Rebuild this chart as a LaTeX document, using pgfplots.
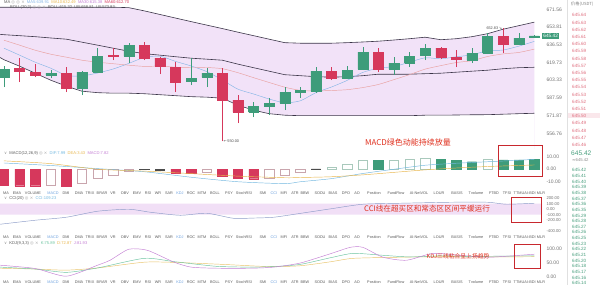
\documentclass[border=0pt]{standalone}
\usepackage{pgfplots}
\pgfplotsset{compat=1.18}
\usepackage{pgfplotstable}
\usepackage{fontspec}
\setmainfont{Liberation Sans}
\newfontfamily\cjk{Noto Sans CJK SC}
\newfontfamily\sym{DejaVu Sans}

\definecolor{upc}{HTML}{3E9C7A}
\definecolor{dnc}{HTML}{D6385C}
\definecolor{bandfill}{HTML}{F2E2F8}
\definecolor{bandln}{HTML}{3B3548}
\definecolor{maA}{HTML}{86B6E6}
\definecolor{maB}{HTML}{E9A0A0}
\definecolor{holr}{HTML}{C9A5AD}
\definecolor{holg}{HTML}{A9C9BC}
\definecolor{difc}{HTML}{72B8E0}
\definecolor{deac}{HTML}{E8B64C}
\definecolor{ccic}{HTML}{8C9CC8}
\definecolor{cciband}{HTML}{F1DFF6}
\definecolor{kc}{HTML}{6CC4A0}
\definecolor{dc}{HTML}{E9C46A}
\definecolor{jc}{HTML}{C47FD4}
\definecolor{anno}{HTML}{E0301E}
\definecolor{boxc}{HTML}{C8282E}
\definecolor{lblc}{HTML}{5A5A5A}
\definecolor{lblon}{HTML}{6FA3E0}
\definecolor{askc}{HTML}{E07080}
\definecolor{bidc}{HTML}{4AA07F}

% daily candles: open, high, low, close
\pgfplotstableread{
i  o      h      l      c
0  606.15 616.33 597.04 613.53
1  614.46 623.84 601.58 611.67
2  610.75 618.20 606.15 607.99
3  607.99 612.59 605.23 609.83
4  609.83 615.39 592.53 596.13
5  596.13 611.50 589.86 610.75
6  610.75 633.36 609.83 625.74
7  626.69 633.36 621.94 626.20
8  625.74 638.18 619.14 636.25
9  636.25 639.14 621.94 623.84
10 623.84 624.80 608.91 616.33
11 615.39 620.07 592.53 601.58
12 602.48 623.84 598.86 605.23
13 606.15 614.46 597.04 609.83
14 609.83 614.46 550.00 585.39
15 585.39 589.86 565.37 574.86
16 574.86 583.63 570.53 580.11
17 580.11 587.18 572.26 582.75
18 582.75 597.04 576.59 592.53
19 592.53 597.04 587.18 594.32
20 593.43 615.39 591.64 611.67
21 611.67 615.39 603.39 605.23
22 605.23 616.33 604.31 612.59
23 613.53 634.32 612.59 629.53
24 629.53 633.36 610.75 613.53
25 613.53 624.78 607.99 619.14
26 619.14 629.53 615.39 625.74
27 626.69 637.21 621.94 633.36
28 633.36 634.32 622.89 624.78
29 624.78 631.43 615.39 622.89
30 621.94 633.36 619.14 628.58
31 628.58 647.91 627.63 644.98
32 644.98 652.83 628.58 637.21
33 637.21 647.80 636.40 643.03
34 644.20 646.50 643.80 645.42
}\candles

% Bollinger bands (upper, middle, lower) and moving averages
\pgfplotstableread{
i      ub     mb     lb     ma5    ma10
-0.256 673.92 646.80 624.50 nan    nan
0      673.92 646.44 622.41 633.36 641.07
1      673.92 645.47 616.33 626.69 636.25
2      673.92 644.49 609.83 620.07 631.43
3      673.92 643.22 603.39 614.46 627.63
4      673.92 642.05 597.95 607.81 624.79
5      673.92 639.14 593.43 607.25 621.94
6      673.92 636.25 592.09 610.01 620.07
7      673.92 633.36 591.64 613.71 618.67
8      673.41 630.48 591.64 618.95 617.27
9      670.14 628.11 591.19 624.60 616.15
10     666.52 626.69 590.30 625.74 616.42
11     662.89 625.26 589.41 620.82 615.39
12     659.38 623.84 588.53 616.52 615.11
13     655.90 622.89 588.09 611.30 615.11
14     652.43 621.94 587.18 603.57 613.99
15     648.89 618.20 580.99 595.23 610.29
16     645.47 614.93 576.59 590.93 605.69
17     642.05 611.67 573.56 586.46 601.30
18     638.66 608.45 572.26 583.10 597.04
19     638.18 607.53 571.83 584.86 594.14
20     638.18 606.61 571.83 592.18 593.70
21     638.18 606.15 571.83 597.22 594.05
22     638.66 606.61 571.83 603.21 594.78
23     639.33 607.53 571.83 610.57 596.68
24     640.11 608.91 571.83 614.46 599.49
25     641.27 608.91 571.83 615.95 603.94
26     642.54 608.91 571.83 620.07 608.54
27     644.00 609.37 572.26 624.22 613.62
28     641.56 609.83 572.26 623.27 616.89
29     642.54 610.75 572.43 625.17 619.79
30     644.49 611.67 572.61 627.06 621.47
31     647.42 612.59 572.69 630.86 625.45
32     651.83 613.99 573.13 631.62 627.92
33     655.31 614.93 573.56 635.29 629.25
34     658.81 615.32 573.93 639.91 632.49
}\bands

\pgfplotstableread{
i   dif   dea
0   5.0   6.7
3   3.0   4.5
6   0.5   0.0
9  -2.0  -1.5
12 -6.4  -3.5
15 -10.0 -5.5
18 -11.5 -6.8
19 -10.0 -6.6
21 -7.5  -6.0
23 -3.4  -4.5
25  0.0  -2.5
27  3.2  -0.5
29  4.8   1.0
31  6.0   2.2
33  7.2   3.0
34  7.99  3.43
}\macdlines

\pgfplotstableread{
i      v
-0.256 -273
2      -200
4      -145
6      -36
8      0
9.4    -55
11.3   -110
13     -73
14.7   -164
16     -160
17.3   -145
19     -75
21     10
23     91
25.4   109
28.6   127
31     127
32.2   91
34     109.23
}\cci

\pgfplotstableread{
i      j
-0.256 42
2      30
4      2
6      42
6.8    60
8      100
9.2    96
10.9   53
12     35
13.6   31
15.8   31
17.3   35
19     50
21     85
22.2   107
23     107
24.3   71
25.8   60
27.5   85
29.2   78
31     71
32.3   75
34     81.93
}\kdjJ

\pgfplotstableread{
i      k
-0.256 35
2      28
4      16
6      32
9      67
10.9   55
13.6   38
15.8   35
17.3   37
19     45
21     70
22.4   85
24.3   78
26     72
28     76
30     74
32     75
34     75.89
}\kdjK

\pgfplotstableread{
i      d
-0.256 31
2      28
4      24
6      32
9      53
11     52
14     45
17     37
19     40
21     55
22.4   67
25.4   71
28     73
31     72
34     72.87
}\kdjD

% build one wick plot and one body plot per candle from the table
\pgfplotstablegetrowsof{\candles}
\pgfmathtruncatemacro\lastrow{\pgfplotsretval-1}
\gdef\candleplots{}
\pgfplotsforeachungrouped \rr in {0,...,\lastrow}{%
  \pgfplotstablegetelem{\rr}{i}\of\candles \let\vi\pgfplotsretval
  \pgfplotstablegetelem{\rr}{o}\of\candles \let\vo\pgfplotsretval
  \pgfplotstablegetelem{\rr}{h}\of\candles \let\vh\pgfplotsretval
  \pgfplotstablegetelem{\rr}{l}\of\candles \let\vl\pgfplotsretval
  \pgfplotstablegetelem{\rr}{c}\of\candles \let\vc\pgfplotsretval
  \pgfmathsetmacro\xl{\vi-0.32}%
  \pgfmathsetmacro\xr{\vi+0.32}%
  \pgfmathtruncatemacro\isup{\vc>=\vo}%
  \ifnum\isup=1 \def\cc{upc}\else\def\cc{dnc}\fi
  \xdef\candleplots{\unexpanded\expandafter{\candleplots}%
    \noexpand\addplot[\cc, line width=0.5pt, forget plot] coordinates {(\vi,\vl) (\vi,\vh)};
    \noexpand\addplot[draw=\cc, fill=\cc, line width=0.3pt, forget plot]
      coordinates {(\xl,\vo) (\xr,\vo) (\xr,\vc) (\xl,\vc) (\xl,\vo)};}%
}

\pgfplotsset{
  panel/.style={
    scale only axis, width=542pt,
    xmin=-0.256, xmax=34.49,
    axis line style={draw=none},
    xtick=\empty, tick style={draw=none},
    yticklabel pos=right,
    yticklabel style={font=\fontsize{5}{6}\selectfont, text=black!55, xshift=1pt},
    clip mode=individual,
  },
}

\newcommand\lblfont{\fontsize{3.8}{4.5}\selectfont}
\newcommand\lgdfont{\fontsize{4.1}{5}\selectfont}

% row of indicator names under each panel
\newcommand\indrow[1]{%
  \foreach \xx/\nm/\cl in {6/MA/lblc,17/EMA/lblc,33/VOLUME/lblc,53/MACD/lblon,66/DMI/lblc,79/DMA/lblc,
    90/TRIX/lblc,102/BRAR/lblc,113/VR/lblc,125/OBV/lblc,137/EMV/lblc,148/RSI/lblc,158/WR/lblc,
    169/SAR/lblc,180/KDJ/lblon,191/ROC/lblc,202/MTM/lblc,215/BOLL/lblc,229/PSY/lblc,244/StochRSI/lblc,
    263/SMI/lblc,274/CCI/lblon,284/MFI/lblc,295/ATR/lblc,305/BBW/lblc,320/SODU/lblc,333/BIAS/lblc,
    346/DPO/lblc,357/AO/lblc,374/Position/lblc,396/FundFlow/lblc,419/AI-NetVOL/lblc,439/LOUR/lblc,
    457/BASIS/lblc,476/Tvolume/lblc,494/FTBD/lblc,507/TFSI/lblc,519/TTMU/lblc,530/AI-BDI/lblc,541/MLR/lblc}
  {\node[font=\lblfont, text=\cl, inner sep=0pt] at (\xx pt,#1) {\nm};}%
}

\begin{document}
\begin{tikzpicture}[x=1pt,y=1pt]
\fill[white] (0,0) rectangle (600,285);

% ---------------- price panel ----------------
\begin{axis}[panel, at={(0pt,285pt)}, anchor=north west, height=148pt,
  ymode=log, ymin=544.36, ymax=681.08,
  ytick={556.76,571.87,587.59,603.33,619.73,636.53,653.81,671.56},
  yticklabels={556.76,571.87,587.59,603.33,619.73,636.53,653.81,671.56}]
% band area: tint below the upper band, then white below the lower band
\addplot[fill=bandfill, draw=none, forget plot] table[x=i,y=ub]{\bands} \closedcycle;
\addplot[fill=white, draw=none, forget plot] table[x=i,y=lb]{\bands} \closedcycle;
\addplot[bandln, line width=0.6pt] table[x=i,y=ub]{\bands};
\addplot[bandln, line width=0.6pt] table[x=i,y=lb]{\bands};
\addplot[bandln, line width=0.6pt] table[x=i,y=mb]{\bands};
\addplot[maA, line width=0.45pt, smooth, tension=0.4] table[x=i,y=ma5]{\bands};
\addplot[maB, line width=0.45pt, smooth, tension=0.4] table[x=i,y=ma10]{\bands};
\candleplots
\node[font=\fontsize{3.8}{4.5}\selectfont, text=black!70, anchor=west, inner sep=1pt] at (axis cs:14,550.00) {{\sym\char"2190}\,550.00};
\node[font=\fontsize{3.8}{4.5}\selectfont, text=black!70, anchor=east, inner sep=1pt] at (axis cs:32,652.83) {652.83\,{\sym\char"2198}};
\node[fill=upc, text=white, font=\fontsize{4.8}{5}\selectfont, inner sep=1.2pt, anchor=west] at (axis cs:34.49,645.42) {645.42};
\end{axis}

% ---------------- MACD panel ----------------
\begin{axis}[panel, at={(0pt,137pt)}, anchor=north west, height=40pt,
  ymin=-15.2, ymax=16.8, ytick={-10,0,10}, yticklabels={-10.00,0.00,10.00}]
\addplot[ybar, bar width=9.4pt, bar shift=0pt, fill=dnc, draw=dnc]
  coordinates {(0,-12.8) (1,-13.2) (2,-13.2) (4,-13.3) (11,-3.0) (12,-3.5) (14,-5.5) (15,-7.5) (16,-7.6)};
\addplot[ybar, bar width=9.4pt, bar shift=0pt, fill=white, draw=holr]
  coordinates {(3,-13.0) (5,-11.5) (6,-7.0) (7,-5.0) (8,-1.5) (13,-2.6) (17,-7.0) (18,-5.0) (19,-2.5)};
\addplot[ybar, bar width=9.4pt, bar shift=0pt, fill=black!70, draw=black!70]
  coordinates {(9,-0.3) (10,-0.5) (20,0.3)};
\addplot[ybar, bar width=9.4pt, bar shift=0pt, fill=upc, draw=upc]
  coordinates {(24,7.0) (28,8.0) (29,7.0) (30,6.0) (32,7.5) (33,7.5) (34,7.82)};
\addplot[ybar, bar width=9.4pt, bar shift=0pt, fill=white, draw=holg]
  coordinates {(21,1.5) (22,4.0) (23,7.5) (25,7.5) (26,8.0) (27,9.0) (31,8.0)};
\addplot[difc, line width=0.45pt, smooth, tension=0.4] table[x=i,y=dif]{\macdlines};
\addplot[deac, line width=0.45pt, smooth, tension=0.4] table[x=i,y=dea]{\macdlines};
\end{axis}

% ---------------- CCI panel ----------------
\begin{axis}[panel, at={(0pt,90pt)}, anchor=north west, height=39pt,
  ymin=-454.5, ymax=254.5, ytick={-400,-200,-100,0,100,200},
  yticklabels={-400.00,-200.00,-100.00,0.00,100.00,200.00},
  yticklabel style={font=\fontsize{4.2}{4.5}\selectfont}]
\addplot[fill=cciband, draw=none] coordinates {(-0.256,100) (34.49,100) (34.49,-100) (-0.256,-100) (-0.256,100)};
\addplot[ccic, line width=0.45pt, smooth, tension=0.4] table[x=i,y=v]{\cci};
\end{axis}

% ---------------- KDJ panel ----------------
\begin{axis}[panel, at={(0pt,45pt)}, anchor=north west, height=40pt,
  ymin=-12.7, ymax=132.7, ytick={0,50,100}, yticklabels={0.00,50.00,100.00}]
\addplot[dc, line width=0.45pt, smooth, tension=0.4] table[x=i,y=d]{\kdjD};
\addplot[kc, line width=0.45pt, smooth, tension=0.4] table[x=i,y=k]{\kdjK};
\addplot[jc, line width=0.45pt, smooth, tension=0.4] table[x=i,y=j]{\kdjJ};
\end{axis}

% legends of the panels
\node[anchor=west, font=\lgdfont, inner sep=0pt, text=lblc] at (4,282.5)
  {MA \textcolor{black!35}{\sym\char"25CE\ \char"25CE\ \char"00D7}\ \ \textcolor{maA}{MA5:639.91}\ \ \textcolor{deac}{MA10:632.49}\ \ \textcolor{jc}{MA30:615.38}\ \ \textcolor{dnc}{MA60:612.70}};
\node[anchor=west, font=\lgdfont, inner sep=0pt, text=lblc] at (10,277.5)
  {BOLL(20,2) \textcolor{black!35}{\sym\char"25CE\ \char"25CE\ \char"00D7}\ \ BOLL:615.32\ \ UB:658.81\ \ LB:573.93};
\node[anchor=west, font=\lgdfont, inner sep=0pt, text=lblc] at (4,132)
  {\textcolor{black!40}{\sym\char"2228}\ \ MACD(12,26,9) \textcolor{black!35}{\sym\char"25CE\ \char"00D7}\ \ \textcolor{difc}{DIF:7.99}\ \ \textcolor{deac}{DEA:3.43}\ \ \textcolor{jc}{MACD:7.82}};
\node[anchor=west, font=\lgdfont, inner sep=0pt, text=lblc] at (4,86.5)
  {\textcolor{black!40}{\sym\char"2228}\ \ CCI(20) \textcolor{black!35}{\sym\char"25CE\ \char"00D7}\ \ \textcolor{difc}{CCI:109.23}};
\node[anchor=west, font=\lgdfont, inner sep=0pt, text=lblc] at (4,42)
  {\textcolor{black!40}{\sym\char"2228}\ \ KDJ(9,3,3) \textcolor{black!35}{\sym\char"25CE\ \char"00D7}\ \ \textcolor{kc}{K:75.89}\ \ \textcolor{deac}{D:72.87}\ \ \textcolor{jc}{J:81.93}};

% indicator name rows
\indrow{92}
\indrow{48}
\indrow{3}

% annotations
\node[font=\cjk\fontsize{8}{9}\selectfont, text=anno] at (408,143) {MACD绿色动能持续放量};
\node[font=\cjk\fontsize{7.6}{9}\selectfont, text=anno] at (427,77) {CCI线在超买区和常态区区间平缓运行};
\node[font=\cjk\fontsize{5.8}{7}\selectfont, text=anno] at (458,29) {KDJ三线粘合呈上扬趋势};
\draw[boxc, line width=0.8pt] (498,140) rectangle (542,109);
\draw[boxc, line width=0.8pt] (511,88) rectangle (541,63);
\draw[boxc, line width=0.8pt] (514,41) rectangle (540,17);

% order book column
\draw[black!12, line width=0.5pt] (567,0) -- (567,285);
\node[font=\cjk\fontsize{4.2}{5}\selectfont, text=black!50, anchor=west, inner sep=0pt] at (571,281) {价格(USDT)};
\fill[dnc!12] (568,167.5) rectangle (600,172.5);
\foreach \k/\v in {0/645.64,1/645.63,2/645.62,3/645.61,4/645.60,5/645.59,6/645.58,7/645.57,8/645.56,9/645.55,
  10/645.54,11/645.53,12/645.52,13/645.51,14/645.50,15/645.49,16/645.48,17/645.47,18/645.46}
  {\node[font=\fontsize{4.6}{5}\selectfont, text=askc, anchor=west, inner sep=0pt] at (572,270-7.2*\k) {\v};}
\node[font=\fontsize{6.6}{7}\selectfont, text=bidc, anchor=west, inner sep=0pt] at (571,132) {645.42};
\node[font=\fontsize{4.2}{5}\selectfont, text=black!45, anchor=west, inner sep=0pt] at (572,125) {{\sym\char"2248}645.42};
\foreach \k/\v in {0/645.42,1/645.41,2/645.40,3/645.39,4/645.38,5/645.37,6/645.36,7/645.35,8/645.29,9/645.28,
  10/645.27,11/645.26,12/645.25,13/645.23,14/645.22,15/645.21,16/645.20,17/645.18,18/645.17,19/645.16,20/645.14}
  {\node[font=\fontsize{4.6}{5}\selectfont, text=bidc, anchor=west, inner sep=0pt] at (572,115-5.65*\k) {\v};}
\end{tikzpicture}
\end{document}
